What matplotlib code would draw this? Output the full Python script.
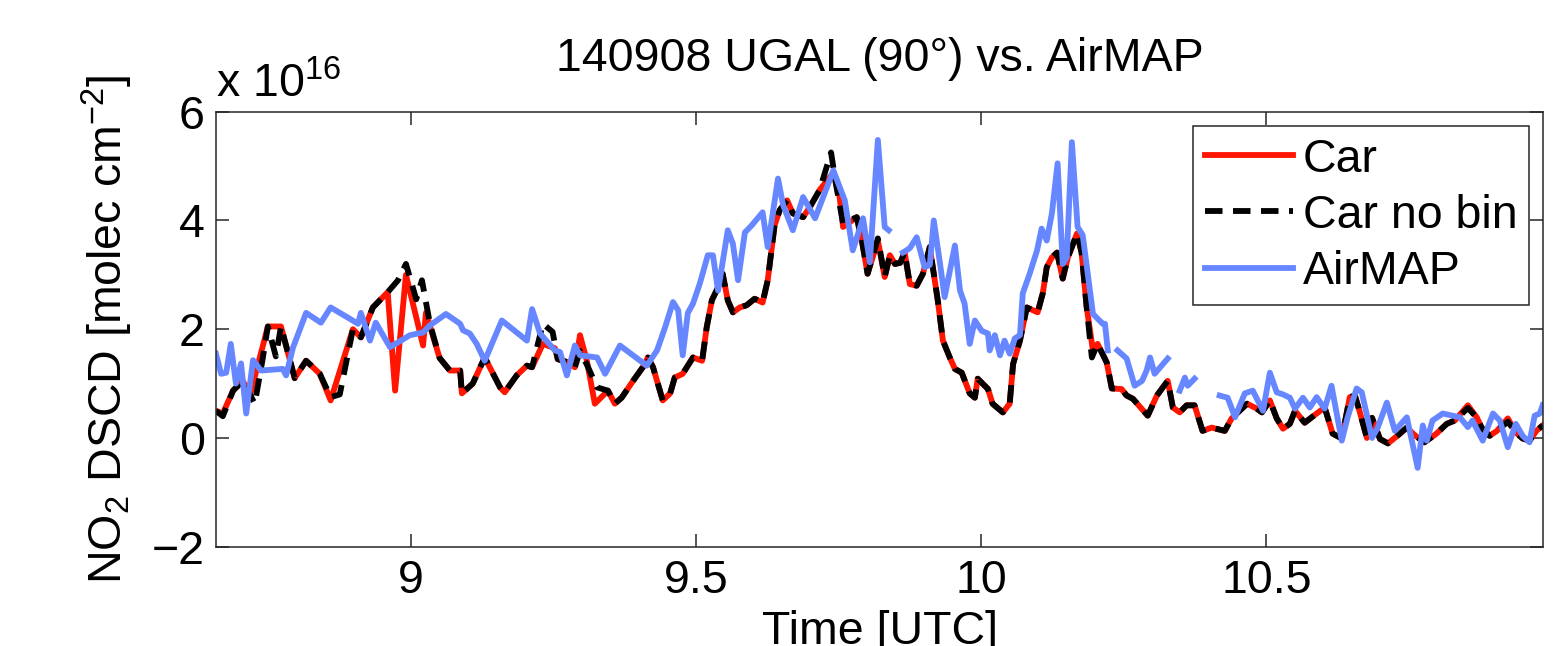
import numpy as np
import matplotlib
matplotlib.use("Agg")
import matplotlib.pyplot as plt

# Data (NO2 DSCD in units of 1e16 molec cm^-2, time in hours UTC)
car_t = [8.659, 8.671, 8.689, 8.706, 8.719, 8.750, 8.773, 8.797, 8.817, 8.841,
         8.860, 8.899, 8.913, 8.934, 8.960, 8.973, 8.992, 9.022, 9.027, 9.051,
         9.069, 9.087, 9.090, 9.109, 9.130, 9.157, 9.165, 9.186, 9.204, 9.213,
         9.232, 9.253, 9.258, 9.276, 9.288, 9.297, 9.309, 9.323, 9.346, 9.358,
         9.370, 9.390, 9.407, 9.416, 9.425, 9.442, 9.455, 9.463, 9.477, 9.495,
         9.511, 9.519, 9.528, 9.539, 9.547, 9.556, 9.565, 9.577, 9.589, 9.603,
         9.617, 9.626, 9.638, 9.647, 9.660, 9.670, 9.688, 9.700, 9.717, 9.741,
         9.752, 9.758, 9.782, 9.791, 9.801, 9.819, 9.831, 9.840, 9.849, 9.858,
         9.866, 9.875, 9.887, 9.898, 9.910, 9.924, 9.933, 9.945, 9.954, 9.966,
         9.980, 9.989, 9.994, 10.012, 10.020, 10.038, 10.050, 10.056, 10.068, 10.080,
         10.099, 10.108, 10.115, 10.124, 10.133, 10.143, 10.152, 10.161, 10.168, 10.176,
         10.185, 10.196, 10.204, 10.220, 10.229, 10.246, 10.255, 10.266, 10.292, 10.308,
         10.317, 10.327, 10.336, 10.348, 10.360, 10.374, 10.388, 10.404, 10.427, 10.439,
         10.466, 10.483, 10.492, 10.506, 10.518, 10.529, 10.541, 10.550, 10.567, 10.588,
         10.602, 10.616, 10.632, 10.646, 10.655, 10.663, 10.676, 10.685, 10.699, 10.713,
         10.734, 10.746, 10.760, 10.777, 10.798, 10.816, 10.830, 10.853, 10.869, 10.877,
         10.891, 10.904, 10.923, 10.937, 10.949, 10.961, 10.973, 10.984]
car_v = [0.50, 0.45, 0.87, 1.05, 0.80, 2.05, 2.05, 1.10, 1.42, 1.18,
         0.69, 2.00, 1.85, 2.40, 2.68, 0.87, 3.00, 1.70, 2.30, 1.47,
         1.24, 1.24, 0.82, 1.00, 1.48, 0.93, 0.84, 1.15, 1.33, 1.30,
         1.73, 1.65, 1.45, 1.39, 1.30, 1.89, 1.42, 0.63, 0.87, 0.63,
         0.74, 1.05, 1.30, 1.48, 1.30, 0.69, 0.82, 1.11, 1.18, 1.48,
         1.42, 2.03, 2.53, 2.77, 3.02, 2.53, 2.31, 2.40, 2.44, 2.56,
         2.49, 2.90, 3.91, 4.19, 4.37, 4.13, 4.06, 4.25, 4.56, 4.88,
         4.43, 3.88, 4.06, 3.63, 3.02, 3.63, 2.96, 3.36, 3.20, 3.22,
         3.41, 2.83, 2.80, 3.02, 3.51, 2.53, 1.79, 1.48, 1.27, 1.20,
         0.82, 0.74, 1.09, 0.90, 0.63, 0.47, 0.63, 1.36, 1.79, 2.40,
         2.31, 2.66, 3.14, 3.32, 3.41, 2.93, 3.32, 3.57, 3.76, 3.41,
         2.40, 1.60, 1.73, 1.39, 0.91, 0.90, 0.78, 0.72, 0.41, 0.78,
         0.91, 1.05, 0.56, 0.47, 0.60, 0.60, 0.13, 0.19, 0.13, 0.36,
         0.63, 0.54, 0.47, 0.69, 0.36, 0.17, 0.26, 0.50, 0.28, 0.45,
         0.56, 0.08, -0.01, 0.75, 0.78, 0.50, 0.00, 0.37, -0.02, -0.10,
         0.08, 0.19, 0.05, -0.08, 0.08, 0.26, 0.32, 0.60, 0.37, 0.19,
         0.04, 0.13, 0.36, 0.10, -0.01, -0.05, 0.13, 0.23]

nobin_t = [8.659, 8.671, 8.689, 8.706, 8.727, 8.740, 8.750, 8.764, 8.773, 8.797,
           8.817, 8.841, 8.860, 8.876, 8.899, 8.913, 8.934, 8.960, 8.978, 8.992,
           9.010, 9.020, 9.034, 9.051, 9.069, 9.087, 9.090, 9.109, 9.130, 9.157,
           9.165, 9.186, 9.204, 9.213, 9.232, 9.249, 9.258, 9.276, 9.288, 9.297,
           9.309, 9.327, 9.346, 9.358, 9.370, 9.390, 9.407, 9.416, 9.425, 9.442,
           9.455, 9.463, 9.477, 9.495, 9.511, 9.519, 9.528, 9.539, 9.547, 9.556,
           9.565, 9.577, 9.589, 9.603, 9.617, 9.626, 9.638, 9.647, 9.660, 9.670,
           9.688, 9.700, 9.717, 9.737, 9.745, 9.758, 9.782, 9.791, 9.801, 9.819,
           9.831, 9.840, 9.849, 9.858, 9.866, 9.875, 9.887, 9.898, 9.910, 9.924,
           9.933, 9.945, 9.954, 9.966, 9.980, 9.989, 9.994, 10.012, 10.020, 10.038,
           10.050, 10.056, 10.068, 10.080, 10.099, 10.108, 10.115, 10.124, 10.133, 10.143,
           10.152, 10.161, 10.168, 10.176, 10.185, 10.194, 10.204, 10.220, 10.229, 10.246,
           10.255, 10.266, 10.292, 10.308, 10.317, 10.327, 10.336, 10.348, 10.360, 10.374,
           10.388, 10.404, 10.427, 10.439, 10.466, 10.483, 10.492, 10.506, 10.518, 10.529,
           10.541, 10.550, 10.567, 10.588, 10.602, 10.616, 10.632, 10.646, 10.655, 10.663,
           10.676, 10.685, 10.699, 10.713, 10.734, 10.746, 10.760, 10.777, 10.798, 10.816,
           10.830, 10.853, 10.869, 10.877, 10.891, 10.904, 10.923, 10.937, 10.949, 10.961,
           10.973, 10.984]
nobin_v = [0.50, 0.40, 0.87, 1.05, 0.63, 1.40, 2.05, 1.50, 2.05, 1.10,
           1.42, 1.18, 0.75, 0.80, 2.00, 1.85, 2.40, 2.68, 2.90, 3.20,
           2.55, 2.90, 2.10, 1.47, 1.24, 1.24, 0.82, 1.00, 1.48, 0.93,
           0.84, 1.15, 1.33, 1.30, 2.10, 1.95, 1.45, 1.39, 1.30, 1.60,
           1.35, 0.93, 0.87, 0.63, 0.74, 1.05, 1.30, 1.48, 1.30, 0.69,
           0.82, 1.11, 1.18, 1.48, 1.42, 2.03, 2.53, 2.77, 3.02, 2.53,
           2.31, 2.40, 2.44, 2.56, 2.49, 2.90, 3.91, 4.19, 4.37, 4.13,
           4.06, 4.25, 4.56, 5.25, 4.70, 3.95, 4.06, 3.63, 3.02, 3.67,
           2.96, 3.36, 3.20, 3.22, 3.41, 2.83, 2.80, 3.02, 3.51, 2.53,
           1.79, 1.48, 1.27, 1.20, 0.82, 0.74, 1.09, 0.90, 0.63, 0.47,
           0.63, 1.36, 1.79, 2.40, 2.31, 2.66, 3.14, 3.32, 3.41, 2.93,
           3.32, 3.57, 3.76, 3.41, 2.40, 1.48, 1.73, 1.39, 0.91, 0.90,
           0.78, 0.72, 0.41, 0.78, 0.91, 1.05, 0.56, 0.47, 0.60, 0.60,
           0.13, 0.19, 0.13, 0.36, 0.63, 0.54, 0.47, 0.69, 0.36, 0.17,
           0.26, 0.50, 0.28, 0.45, 0.56, 0.08, -0.01, 0.75, 0.78, 0.50,
           0.00, 0.37, -0.02, -0.10, 0.08, 0.19, 0.05, -0.08, 0.08, 0.26,
           0.32, 0.55, 0.37, 0.19, 0.04, 0.13, 0.30, 0.10, -0.01, -0.05,
           0.13, 0.23]

# AirMAP, NaN marks gaps in the data
air_t = [8.659, 8.668, 8.677, 8.685, 8.694, 8.703, 8.712, 8.724, 8.738, 8.776,
         8.782, 8.794, 8.817, 8.843, 8.860, 8.894, 8.908, 8.913, 8.929, 8.939,
         8.964, 8.999, 9.022, 9.034, 9.062, 9.087, 9.092, 9.104, 9.116, 9.130,
         9.160, 9.204, 9.213, 9.227, 9.253, 9.262, 9.274, 9.288, 9.297, 9.327,
         9.341, 9.367, 9.414, 9.432, 9.446, 9.460, 9.469, 9.477, 9.486, 9.495,
         9.507, 9.521, 9.530, 9.539, 9.556, 9.565, 9.574, 9.586, 9.598, 9.617,
         9.626, 9.644, 9.653, 9.670, 9.688, 9.709, 9.741, 9.761, 9.775, 9.793,
         9.805, 9.819, 9.831, 9.838, 9.850, 9.863, 9.875, 9.887, 9.901, 9.910,
         9.917, 9.928, 9.936, 9.954, 9.963, 9.971, 9.980, 9.989, 10.001, 10.012,
         10.015, 10.024, 10.033, 10.041, 10.050, 10.059, 10.068, 10.073, 10.085, 10.098,
         10.106, 10.115, 10.124, 10.134, 10.143, 10.150, 10.159, 10.169, 10.178, 10.196,
         10.213, 10.217, 10.222, 10.230, 10.239, 10.255, 10.269, 10.282, 10.290, 10.296,
         10.304, 10.327, 10.340, 10.348, 10.357, 10.362, 10.374, 10.400, 10.418, 10.432,
         10.445, 10.462, 10.476, 10.494, 10.506, 10.518, 10.529, 10.541, 10.550, 10.564,
         10.576, 10.588, 10.602, 10.614, 10.632, 10.642, 10.658, 10.667, 10.685, 10.695,
         10.711, 10.725, 10.746, 10.765, 10.774, 10.781, 10.791, 10.809, 10.839, 10.853,
         10.861, 10.879, 10.897, 10.909, 10.923, 10.937, 10.949, 10.961, 10.970, 10.979,
         10.984]
nan = np.nan
air_v = [1.55, 1.18, 1.20, 1.73, 1.00, 1.37, 0.45, 1.43, 1.24, 1.27,
         1.15, 1.66, 2.30, 2.12, 2.40, 2.19, 2.10, 2.30, 1.79, 2.12,
         1.67, 1.89, 1.94, 2.07, 2.28, 2.10, 1.98, 1.92, 1.73, 1.42,
         2.16, 1.79, 2.37, 1.92, 1.61, 1.58, 1.15, 1.70, 1.52, 1.48,
         1.18, 1.70, 1.33, 1.61, 2.03, 2.50, 2.35, 1.52, 2.30, 2.47,
         2.84, 3.36, 3.36, 2.71, 3.82, 3.57, 2.90, 3.78, 3.91, 4.15,
         3.51, 4.77, 4.28, 3.82, 4.43, 4.04, 4.92, 4.37, 3.45, 4.04,
         3.23, 5.48, 3.88, 3.82, nan, 3.41, 3.49, 3.69, 3.14, 3.18,
         4.00, 3.20, 2.59, 3.54, 2.71, 2.47, 1.73, 2.16, 1.97, 1.92,
         1.61, 1.89, 1.52, 1.79, 1.55, 1.83, 1.89, 2.66, 3.02, 3.45,
         3.85, 3.63, 4.13, 5.05, 3.20, 3.32, 5.44, 3.88, 3.73, 2.28,
         2.10, 2.10, 1.61, nan, 1.61, 1.46, 0.96, 1.05, 1.24, 1.48,
         1.18, 1.46, nan, 0.87, 1.11, 0.96, 1.09, nan, 0.78, 0.74,
         0.38, 0.82, 0.87, 0.50, 1.20, 0.84, 0.80, 0.74, 0.54, 0.74,
         0.56, 0.75, 0.54, 0.96, -0.05, 0.37, 0.91, 0.84, 0.00, 0.19,
         0.65, 0.13, 0.38, -0.55, 0.23, -0.05, 0.32, 0.45, 0.38, 0.20,
         0.32, -0.05, 0.45, 0.32, -0.17, 0.26, 0.04, -0.08, 0.41, 0.45,
         0.60]

x_ticks = [9, 9.5, 10, 10.5]
x_ticklabels = ["9", "9.5", "10", "10.5"]
y_ticks = [-2, 0, 2, 4, 6]

# MATLAB-like look
plt.rcParams['font.family'] = ['Liberation Sans', 'DejaVu Sans']
plt.rcParams['mathtext.fontset'] = 'custom'
plt.rcParams['mathtext.rm'] = 'Liberation Sans'
plt.rcParams['mathtext.it'] = 'Liberation Sans'
fs = 33.5

fig = plt.figure(figsize=(15.58, 6.46), dpi=100)
ax = fig.add_axes([0.1386, 0.1537, 0.8519, 0.6734])

lw = 4.2
ax.plot(car_t, car_v, color='#ff1500', lw=lw, label='Car')
ax.plot(nobin_t, nobin_v, color='black', lw=lw, linestyle=(0, (3, 1.8)), label='Car no bin')
ax.plot(air_t, air_v, color='#6687ff', lw=lw, label='AirMAP')

ax.set_xlim(8.659, 10.985)
ax.set_ylim(-2, 6)
ax.set_xticks(x_ticks)
ax.set_xticklabels(x_ticklabels)
ax.set_yticks(y_ticks)

for s in ax.spines.values():
    s.set_color('#262626')
    s.set_linewidth(1.1)
ax.tick_params(axis='both', direction='in', length=9.5, width=1.1, color='#262626',
               top=True, right=True, labelsize=fs)
ax.tick_params(axis='x', pad=9)
ax.tick_params(axis='y', pad=8)

ax.set_title('140908 UGAL (90°) vs. AirMAP', fontsize=fs, pad=29)
ax.set_xlabel('Time [UTC]', fontsize=fs, labelpad=5)
ax.set_ylabel(r'NO$_2$ DSCD [molec cm$^{-2}$]', fontsize=fs, labelpad=12)

# exponent label in the MATLAB style
ax.text(0.0, 1.034, r'x 10$^{16}$', transform=ax.transAxes, fontsize=fs,
        ha='left', va='baseline')

leg = ax.legend(loc='upper right', bbox_to_anchor=(0.9892, 0.9671), borderaxespad=0,
                fontsize=fs, fancybox=False, framealpha=1, edgecolor='#262626',
                handlelength=1.9, handletextpad=0.2, labelspacing=0.26,
                borderpad=0.25)
leg.get_frame().set_linewidth(1.1)

plt.savefig('out.png', dpi=100)
